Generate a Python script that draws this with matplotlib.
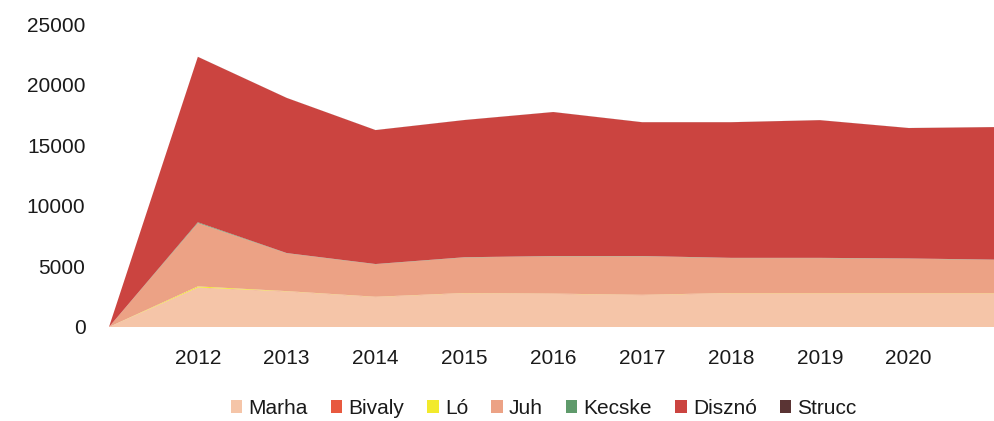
import matplotlib
matplotlib.use("Agg")
import matplotlib.pyplot as plt
from matplotlib.patches import Patch

# first category has no label in the source chart, last one (2021) is cut off
years = ['', '2012', '2013', '2014', '2015', '2016', '2017', '2018', '2019', '2020', '2021']
shown_labels = years[1:10]

marha  = [0, 3250, 2930, 2470, 2780, 2730, 2630, 2780, 2780, 2780, 2780]
bivaly = [0, 10, 10, 10, 10, 10, 10, 10, 10, 10, 10]
lo     = [0, 90, 20, 15, 15, 15, 15, 15, 15, 15, 15]
juh    = [0, 5230, 3120, 2680, 2930, 3080, 3180, 2880, 2880, 2830, 2730]
kecske = [0, 60, 20, 20, 20, 20, 20, 20, 20, 20, 20]
diszno = [0, 13650, 12800, 11050, 11320, 11880, 11040, 11190, 11360, 10760, 10940]
strucc = [0, 5, 5, 5, 5, 5, 5, 5, 5, 5, 5]

names = ['Marha', 'Bivaly', 'Ló', 'Juh', 'Kecske', 'Disznó', 'Strucc']
colors = ['#F5C5A8', '#E8593F', '#F2EA2C', '#ECA285', '#5F9A6B', '#CB4440', '#5A3434']

plt.rcParams['font.family'] = ['Liberation Sans', 'DejaVu Sans']

fig = plt.figure(figsize=(9.94, 4.21), dpi=100)
ax = fig.add_axes([109 / 994, 1 - 327 / 421, 1 - 109 / 994, (327 - 24) / 421])

x = list(range(len(years)))
ax.stackplot(x, marha, bivaly, lo, juh, kecske, diszno, strucc,
             colors=colors, linewidth=0)

ax.set_xlim(0, 9.96)
ax.set_ylim(0, 25000)
ax.set_yticks([0, 5000, 10000, 15000, 20000, 25000])
ax.set_xticks(x[1:10])
ax.set_xticklabels(shown_labels)
ax.tick_params(axis='y', length=0, pad=17, labelsize=15, colors='#1a1a1a')
ax.tick_params(axis='x', length=0, pad=16, labelsize=15, colors='#1a1a1a')
for s in ax.spines.values():
    s.set_visible(False)

handles = [Patch(facecolor=c, edgecolor='none') for c in colors]
fig.legend(handles, names, loc='center', bbox_to_anchor=(0.547, 0.03), ncol=7,
           frameon=False, fontsize=15, handlelength=0.55, handleheight=0.55,
           handletextpad=0.3, columnspacing=1.1, labelcolor='#1a1a1a')

fig.savefig('out.png', dpi=100)
